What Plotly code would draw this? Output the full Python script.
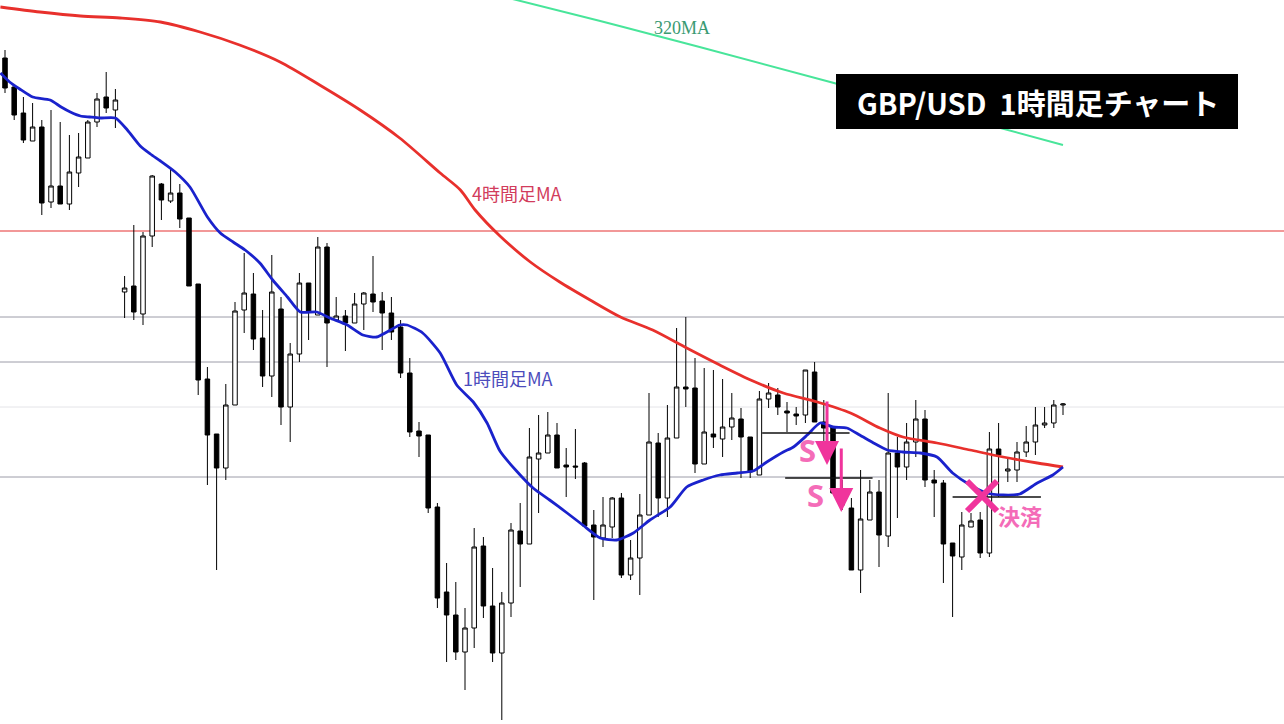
import plotly.graph_objects as go

# ---------------- data ----------------
opens = [
    1.3466, 1.3437, 1.3411, 1.3383, 1.3397, 1.3322, 1.3338, 1.3320, 1.3351, 1.3366,
    1.3402, 1.3427, 1.3414, 1.3232, 1.3238, 1.3210, 1.3288, 1.3340, 1.3323, 1.3331,
    1.3306, 1.3240, 1.3145, 1.3090, 1.3056, 1.3119, 1.3214, 1.3230, 1.3186, 1.3148,
    1.3215, 1.3117, 1.3170, 1.3241, 1.3209, 1.3277, 1.3204, 1.3208, 1.3201, 1.3220,
    1.3230, 1.3223, 1.3211, 1.3197, 1.3151, 1.3093, 1.3089, 1.3017, 1.2932, 1.2909,
    1.2872, 1.2896, 1.2978, 1.2918, 1.2871, 1.2921, 1.2993, 1.2980, 1.3065, 1.3071,
    1.3089, 1.3059, 1.3058, 1.3061, 1.2999, 1.2986, 1.2997, 1.3026, 1.2949, 1.2966,
    1.3009, 1.3081, 1.3026, 1.3086, 1.3137, 1.3136, 1.3060, 1.3090, 1.3085, 1.3097,
    1.3105, 1.3087, 1.3049, 1.3125, 1.3129, 1.3113, 1.3110, 1.3109, 1.3152, 1.3102,
    1.3097, 1.3031, 1.3016, 1.2954, 1.3004, 1.3032, 1.2988, 1.3071, 1.3057, 1.3082,
    1.3105, 1.3044, 1.3041, 1.2981, 1.2967, 1.2997, 1.3004, 1.2971, 1.3075, 1.3053,
    1.3054, 1.3072, 1.3082, 1.3099, 1.3101, 1.3119,
]
highs = [
    1.3474, 1.3439, 1.3427, 1.3421, 1.3404, 1.3414, 1.3402, 1.3389, 1.3391, 1.3404,
    1.3431, 1.3452, 1.3435, 1.3248, 1.3299, 1.3292, 1.3349, 1.3341, 1.3355, 1.3340,
    1.3306, 1.3240, 1.3157, 1.3090, 1.3140, 1.3222, 1.3271, 1.3251, 1.3214, 1.3269,
    1.3227, 1.3181, 1.3251, 1.3241, 1.3287, 1.3281, 1.3227, 1.3214, 1.3231, 1.3232,
    1.3268, 1.3232, 1.3227, 1.3204, 1.3166, 1.3102, 1.3089, 1.3021, 1.2961, 1.2942,
    1.2916, 1.2996, 1.2987, 1.2956, 1.2932, 1.3001, 1.3021, 1.3096, 1.3109, 1.3112,
    1.3101, 1.3076, 1.3095, 1.3062, 1.3014, 1.3027, 1.3027, 1.3031, 1.2984, 1.3030,
    1.3131, 1.3091, 1.3119, 1.3196, 1.3207, 1.3166, 1.3156, 1.3154, 1.3145, 1.3131,
    1.3116, 1.3087, 1.3133, 1.3141, 1.3136, 1.3122, 1.3117, 1.3154, 1.3162, 1.3124,
    1.3097, 1.3044, 1.3026, 1.3054, 1.3044, 1.3044, 1.3131, 1.3087, 1.3101, 1.3124,
    1.3114, 1.3054, 1.3044, 1.2981, 1.3012, 1.3011, 1.3012, 1.3092, 1.3101, 1.3067,
    1.3082, 1.3098, 1.3117, 1.3117, 1.3124, 1.3121,
]
lows = [
    1.3431, 1.3404, 1.3381, 1.3383, 1.3309, 1.3316, 1.3320, 1.3314, 1.3337, 1.3366,
    1.3397, 1.3411, 1.3396, 1.3206, 1.3204, 1.3199, 1.3277, 1.3304, 1.3321, 1.3296,
    1.3238, 1.3129, 1.3039, 1.2954, 1.3044, 1.3119, 1.3191, 1.3174, 1.3137, 1.3127,
    1.3099, 1.3082, 1.3162, 1.3184, 1.3209, 1.3157, 1.3204, 1.3173, 1.3201, 1.3194,
    1.3212, 1.3174, 1.3184, 1.3146, 1.3087, 1.3067, 1.3011, 1.2916, 1.2862, 1.2864,
    1.2834, 1.2876, 1.2906, 1.2862, 1.2804, 1.2907, 1.2937, 1.2980, 1.3011, 1.3071,
    1.3056, 1.3027, 1.3045, 1.2998, 1.2924, 1.2977, 1.2986, 1.2946, 1.2944, 1.2929,
    1.3009, 1.3007, 1.3007, 1.3086, 1.3117, 1.3051, 1.3060, 1.3076, 1.3067, 1.3084,
    1.3046, 1.3046, 1.3049, 1.3116, 1.3109, 1.3092, 1.3099, 1.3101, 1.3102, 1.3079,
    1.3031, 1.3014, 1.2954, 1.2931, 1.3004, 1.2957, 1.2977, 1.3006, 1.3044, 1.3067,
    1.3037, 1.3007, 1.2941, 1.2907, 1.2954, 1.2997, 1.2966, 1.2967, 1.3027, 1.3042,
    1.3042, 1.3067, 1.3069, 1.3096, 1.3096, 1.3109,
]
closes = [
    1.3436, 1.3409, 1.3384, 1.3397, 1.3321, 1.3338, 1.3320, 1.3352, 1.3367, 1.3402,
    1.3425, 1.3416, 1.3424, 1.3236, 1.3212, 1.3288, 1.3348, 1.3324, 1.3331, 1.3305,
    1.3238, 1.3144, 1.3089, 1.3056, 1.3119, 1.3213, 1.3231, 1.3185, 1.3148, 1.3232,
    1.3117, 1.3170, 1.3241, 1.3212, 1.3277, 1.3201, 1.3208, 1.3201, 1.3220, 1.3231,
    1.3222, 1.3211, 1.3192, 1.3151, 1.3092, 1.3088, 1.3016, 1.2926, 1.2909, 1.2872,
    1.2896, 1.2977, 1.2918, 1.2871, 1.2921, 1.2994, 1.2980, 1.3067, 1.3071, 1.3089,
    1.3056, 1.3057, 1.3057, 1.2998, 1.2987, 1.2999, 1.3026, 1.2949, 1.2966, 1.3009,
    1.3082, 1.3026, 1.3086, 1.3137, 1.3135, 1.3060, 1.3092, 1.3087, 1.3097, 1.3106,
    1.3087, 1.3052, 1.3125, 1.3131, 1.3117, 1.3111, 1.3108, 1.3154, 1.3102, 1.3096,
    1.3031, 1.3019, 1.2954, 1.3005, 1.3032, 1.2989, 1.3071, 1.3057, 1.3082, 1.3105,
    1.3044, 1.3041, 1.2980, 1.2968, 1.2999, 1.3003, 1.2971, 1.3075, 1.3069, 1.3055,
    1.3072, 1.3082, 1.3099, 1.3101, 1.3119, 1.3120,
]
bars = list(range(len(opens)))

# 1-hour MA (at bar positions)
ma1h_x = [-0.5, 0.5, 1.6, 3.0, 4.9, 6.1, 7.1, 8.2, 9.2, 10.3, 12.0, 13.3, 14.7, 15.8, 16.9,
          18.5, 20.1, 22.0, 23.4, 24.8, 26.1, 27.7, 29.1, 30.7, 32.1, 33.9, 35.3, 37.2, 38.9,
          40.4, 41.9, 42.9, 43.7, 45.4, 47.3, 49.1, 50.9, 52.4, 53.8, 55.7, 57.4, 59.2, 61.1,
          62.8, 64.7, 66.5, 68.3, 70.1, 72.3, 74.1, 75.9, 77.7, 79.6, 81.3, 82.8, 84.6, 85.7,
          87.2, 88.6, 90.0, 91.5, 92.9, 94.4, 95.9, 97.6, 99.5, 101.3, 103.0, 104.9, 106.7,
          108.5, 110.3, 112.2, 113.9, 115.0]
ma1h_y = [1.3451, 1.3442, 1.3435, 1.3427, 1.3424, 1.3417, 1.3412, 1.3408, 1.3407, 1.3406,
          1.3406, 1.3394, 1.3378, 1.3370, 1.3363, 1.3352, 1.3337, 1.3307, 1.3291, 1.3282,
          1.3274, 1.3261, 1.3244, 1.3227, 1.3212, 1.3212, 1.3206, 1.3199, 1.3189, 1.3187,
          1.3194, 1.3199, 1.3199, 1.3191, 1.3171, 1.3139, 1.3122, 1.3101, 1.3073, 1.3052,
          1.3036, 1.3024, 1.3011, 1.2999, 1.2986, 1.2984, 1.2991, 1.3004, 1.3017, 1.3037,
          1.3044, 1.3049, 1.3051, 1.3053, 1.3062, 1.3072, 1.3077, 1.3089, 1.3101, 1.3097,
          1.3096, 1.3089, 1.3081, 1.3074, 1.3072, 1.3071, 1.3067, 1.3051, 1.3039, 1.3031,
          1.3029, 1.3030, 1.3041, 1.3049, 1.3057]

# 4-hour MA
ma4h_x = [-0.5, 3.8, 8.2, 12.5, 16.9, 21.2, 25.5, 29.9, 34.2, 38.6, 42.9, 47.3, 49.5, 51.1,
          53.8, 57.1, 60.3, 63.6, 66.9, 70.4, 74.1, 77.7, 81.3, 84.6, 88.3, 91.9, 95.1, 97.6,
          101.3, 104.9, 108.5, 112.2, 115.0]
ma4h_y = [1.3517, 1.3512, 1.3508, 1.3506, 1.3502, 1.3492, 1.3479, 1.3462, 1.3439, 1.3414,
          1.3386, 1.3351, 1.3334, 1.3314, 1.3288, 1.3262, 1.3242, 1.3224, 1.3207, 1.3194,
          1.3176, 1.3159, 1.3143, 1.3131, 1.3122, 1.3111, 1.3096, 1.3087, 1.3081, 1.3074,
          1.3067, 1.3061, 1.3057]

# 320 MA
ma320_x = [54.3, 64.7, 75.5, 89.7, 108.2, 115.0]
ma320_y = [1.3527, 1.3503, 1.3477, 1.3442, 1.3396, 1.3379]

# horizontal levels
red_level = 1.3293
gray_levels = [1.3207, 1.3162, 1.3047]
light_levels = [1.3117]

# short black lines (x start, x end, price)
seg_x0 = [82.3, 84.8, 103.0]
seg_x1 = [91.8, 94.3, 112.6]
seg_y = [1.3091, 1.3046, 1.3027]

# signals
sell_arrow_x = [89.35, 90.9]
sell_arrow_y = [1.3059, 1.3012]
sell_label_x = [87.2, 88.15]
sell_label_y = [1.3074, 1.3029]
exit_x = [106.2]
exit_y = [1.3028]
exit_label_x = [110.3]
exit_label_y = [1.3009]

PINK = "#f0349c"
PINK_LIGHT = "#f46cb8"
JP = "Noto Sans CJK JP"
W, H = 1284, 724

fig = go.Figure()

fig.add_trace(go.Candlestick(
    x=bars, open=opens, high=highs, low=lows, close=closes,
    increasing=dict(fillcolor="white", line=dict(color="black", width=1)),
    decreasing=dict(fillcolor="black", line=dict(color="black", width=1)),
    whiskerwidth=0, showlegend=False, hoverinfo="skip",
))

fig.add_trace(go.Scatter(x=ma320_x, y=ma320_y, mode="lines",
                         line=dict(color="#48e59a", width=2, shape="spline"),
                         showlegend=False, hoverinfo="skip"))
fig.add_trace(go.Scatter(x=ma4h_x, y=ma4h_y, mode="lines",
                         line=dict(color="#e8302c", width=2.8, shape="spline", smoothing=0.8),
                         showlegend=False, hoverinfo="skip"))
fig.add_trace(go.Scatter(x=ma1h_x, y=ma1h_y, mode="lines",
                         line=dict(color="#1a22cc", width=2.8, shape="spline", smoothing=0.6),
                         showlegend=False, hoverinfo="skip"))

for a, b, y in zip(seg_x0, seg_x1, seg_y):
    fig.add_trace(go.Scatter(x=[a, b], y=[y, y], mode="lines",
                             line=dict(color="#111111", width=1.5),
                             showlegend=False, hoverinfo="skip"))

fig.add_trace(go.Scatter(x=exit_x, y=exit_y, mode="markers",
                         marker=dict(symbol="x-thin", size=30,
                                     line=dict(color=PINK, width=6)),
                         showlegend=False, hoverinfo="skip"))

shapes = []
shapes.append(dict(type="line", xref="paper", x0=0, x1=1, yref="y",
                   y0=red_level, y1=red_level, line=dict(color="#e53333", width=1.2),
                   layer="below"))
for lv in gray_levels:
    shapes.append(dict(type="line", xref="paper", x0=0, x1=1, yref="y",
                       y0=lv, y1=lv, line=dict(color="#9c9ca8", width=1), layer="below"))
for lv in light_levels:
    shapes.append(dict(type="line", xref="paper", x0=0, x1=1, yref="y",
                       y0=lv, y1=lv, line=dict(color="#e4e4e8", width=1), layer="below"))
shapes.append(dict(type="rect", xref="paper", yref="paper",
                   x0=836 / W, x1=1238 / W, y0=1 - 129 / H, y1=1 - 74 / H,
                   fillcolor="black", line=dict(width=0), layer="above"))

annotations = [
    dict(xref="paper", yref="paper", x=1038 / W, y=1 - 102 / H,
         xanchor="center", yanchor="middle",
         text="<b>GBP/USD  1時間足チャート</b>", showarrow=False,
         font=dict(family=JP, size=29, color="white")),
    dict(x=73.6, y=1.3496, text="320MA", showarrow=False,
         xanchor="center", yanchor="middle",
         font=dict(family="Liberation Serif", size=18, color="#3a9a72")),
    dict(x=55.65, y=1.3331, text="4時間足MA", showarrow=False,
         xanchor="center", yanchor="middle",
         font=dict(family=JP, size=18, color="#d23c5c")),
    dict(x=54.7, y=1.3146, text="1時間足MA", showarrow=False,
         xanchor="center", yanchor="middle",
         font=dict(family=JP, size=18, color="#4c4cbc")),
]
for ax_, ay_ in zip(sell_arrow_x, sell_arrow_y):
    annotations.append(dict(x=ax_, y=ay_, ax=0, ay=-65, text="", showarrow=True,
                            arrowhead=2, arrowsize=1.6, arrowwidth=3, arrowcolor=PINK))
for sx, sy in zip(sell_label_x, sell_label_y):
    annotations.append(dict(x=sx, y=sy, text="<b>S</b>", showarrow=False,
                            xanchor="center", yanchor="middle",
                            font=dict(family="Noto Sans", size=31, color=PINK_LIGHT)))
for ex, ey in zip(exit_label_x, exit_label_y):
    annotations.append(dict(x=ex, y=ey, text="<b>決済</b>", showarrow=False,
                            xanchor="center", yanchor="middle",
                            font=dict(family=JP, size=22, color=PINK_LIGHT)))

fig.update_layout(
    width=W, height=H,
    margin=dict(l=0, r=0, t=0, b=0),
    paper_bgcolor="white", plot_bgcolor="white",
    xaxis=dict(range=[-5 / 9.2, 1279 / 9.2], visible=False, rangeslider=dict(visible=False),
               fixedrange=True),
    yaxis=dict(range=[1.2800, 1.3524], visible=False, fixedrange=True),
    shapes=shapes, annotations=annotations,
    showlegend=False,
)

fig.write_html("out.html",
               config={"displayModeBar": False},
               post_script="document.body.style.margin='0px';document.body.style.overflow='hidden';")
